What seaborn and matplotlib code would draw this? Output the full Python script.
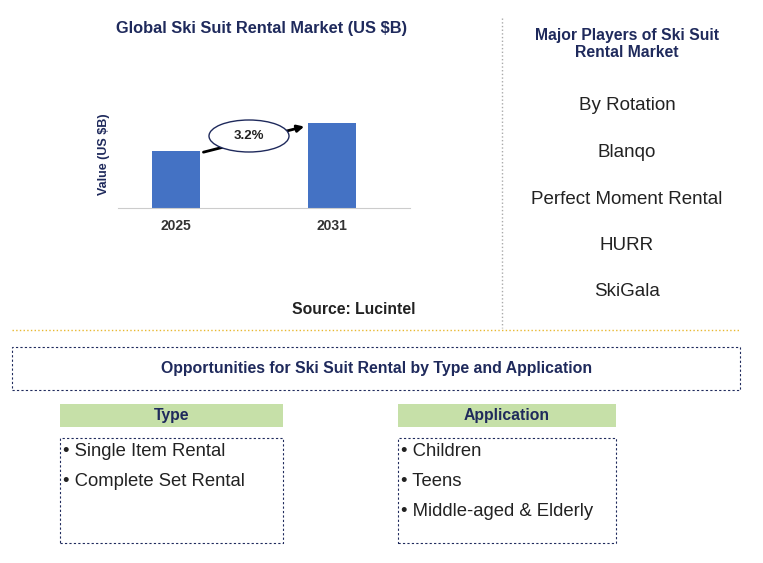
import matplotlib
matplotlib.use("Agg")
import matplotlib.pyplot as plt
from matplotlib.patches import Rectangle, Ellipse
import seaborn as sns
import pandas as pd

years = ["2025", "2031"]
values = [1.0, 1.49]
cagr_label = "3.2%"
players = ["By Rotation", "Blanqo", "Perfect Moment Rental", "HURR", "SkiGala"]
types = ["Single Item Rental", "Complete Set Rental"]
applications = ["Children", "Teens", "Middle-aged & Elderly"]

plt.rcParams["font.family"] = "Liberation Sans"
W, H = 763, 563
fig = plt.figure(figsize=(W/100, H/100), dpi=100)
NAVY = "#1F2A5C"

def fx(x): return x / W
def fy(y): return 1 - y / H

def txt(x, y, s, size, bold=False, color="#222222", ha="center"):
    fig.text(fx(x), fy(y), s, fontsize=size, fontweight="bold" if bold else "normal",
             color=color, ha=ha, va="center")

def rect(x0, y0, x1, y1, fc="none", ec="none", ls="-", lw=1):
    fig.patches.append(Rectangle((fx(x0), fy(y1)), fx(x1) - fx(x0), fy(y0) - fy(y1),
                                 transform=fig.transFigure, fc=fc, ec=ec, ls=ls, lw=lw))

# bar chart
ax = fig.add_axes([fx(118), fy(208), fx(410) - fx(118), (208 - 100) / H])
df = pd.DataFrame({"year": years, "value": values})
sns.barplot(data=df, x="year", y="value", color="#4472C4", width=0.31, ax=ax, saturation=1)
ax.set_xlim(-0.37, 1.5)
ax.set_ylim(0, 1.9)
ax.set_yticks([])
ax.set_xlabel("")
ax.set_ylabel("Value (US $B)", fontsize=9, fontweight="bold", color=NAVY, labelpad=6)
for s in ["top", "right", "left"]:
    ax.spines[s].set_visible(False)
ax.spines["bottom"].set_color("#CCCCCC")
ax.tick_params(axis="x", length=0, pad=8)
for lab in ax.get_xticklabels():
    lab.set_fontweight("bold"); lab.set_fontsize(10); lab.set_color("#333333")
ax.annotate("", xy=(1 - 0.16, values[1] * 0.97), xytext=(0.16, values[0] * 0.97),
            arrowprops=dict(arrowstyle="-|>", color="black", lw=2))
fig.patches.append(Ellipse((fx(249), fy(136)), 80 / W, 32 / H, transform=fig.transFigure,
                           fc="white", ec=NAVY, lw=1, zorder=5))
fig.text(fx(249), fy(136), cagr_label, fontsize=9.5, fontweight="bold", ha="center",
         va="center", color="#222222", zorder=6)

txt(262, 28, "Global Ski Suit Rental Market (US $B)", 11.8, True, NAVY)
txt(354, 309, "Source: Lucintel", 11.3, True, "#222222")

# separators
fig.add_artist(plt.Line2D([fx(502), fx(502)], [fy(18), fy(328)], color="#AAAAAA", ls=":", lw=1))
fig.add_artist(plt.Line2D([fx(12), fx(740)], [fy(330), fy(330)], color="#E8B830", ls=":", lw=1))

# right panel
txt(627, 44, "Major Players of Ski Suit\nRental Market", 11.3, True, NAVY)
for i, p in enumerate(players):
    txt(627, 106 + i * 46.5, p, 13.5)

# opportunities
rect(12, 347, 740, 390, ec=NAVY, ls=(0, (2, 2)), lw=0.8)
txt(377, 368, "Opportunities for Ski Suit Rental by Type and Application", 11.4, True, NAVY)

GREEN = "#C6E0A8"
for (x0, x1, title, items) in [(60, 283, "Type", types), (398, 616, "Application", applications)]:
    rect(x0, 404, x1, 427, fc=GREEN)
    txt((x0 + x1) / 2, 415.5, title, 11.3, True, NAVY)
    rect(x0, 438, x1, 543, ec=NAVY, ls=(0, (2, 2)), lw=0.8)
    for i, it in enumerate(items):
        txt(x0 + 3, 452 + i * 30, "\u2022 " + it, 13.3, ha="left")

fig.savefig("out.png", dpi=100)
